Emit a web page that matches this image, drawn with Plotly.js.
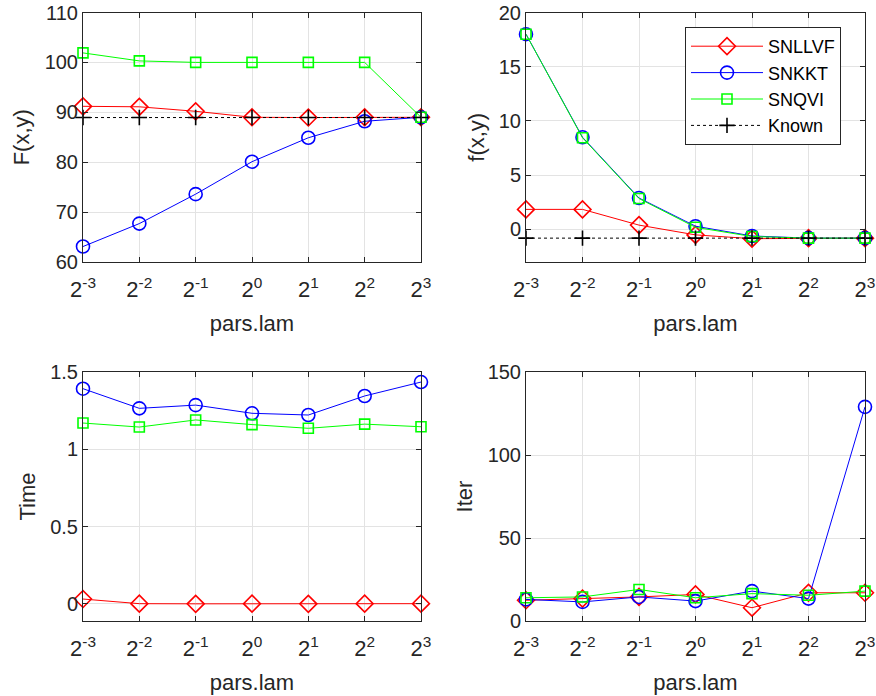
<!DOCTYPE html>
<html>
<head>
<meta charset="utf-8">
<script src="https://cdn.plot.ly/plotly-3.0.1.min.js"></script>
<style>html,body{margin:0;padding:0;background:#fff;}#chart{width:876px;height:696px;}</style>
</head>
<body>
<div id="chart"></div>
<script>
// x positions: exponents of pars.lam = 2^k
const lamExp = [-3, -2, -1, 0, 1, 2, 3];
const lamTickText = ['2<sup>-3</sup>', '2<sup>-2</sup>', '2<sup>-1</sup>', '2<sup>0</sup>', '2<sup>1</sup>', '2<sup>2</sup>', '2<sup>3</sup>'];
const seriesNames = ['SNLLVF', 'SNKKT', 'SNQVI', 'Known'];

// F(x,y)
const F_SNLLVF = [91.2, 91.1, 90.2, 89.0, 88.95, 89.0, 89.0];
const F_SNKKT  = [63.1, 67.7, 73.6, 80.1, 84.9, 88.2, 89.0];
const F_SNQVI  = [101.9, 100.3, 100.0, 100.0, 100.0, 100.0, 89.0];
const F_Known  = [88.95, 88.95, 88.95, 88.95, 88.95, 88.95, 88.95];

// f(x,y)
const f_SNLLVF = [1.85, 1.85, 0.4, -0.5, -0.85, -0.8, -0.8];
const f_SNKKT  = [18.0, 8.5, 2.9, 0.3, -0.6, -0.8, -0.8];
const f_SNQVI  = [18.0, 8.45, 2.85, 0.2, -0.65, -0.8, -0.8];
const f_Known  = [-0.8, -0.8, -0.8, -0.8, -0.8, -0.8, -0.8];

// Time
const T_SNLLVF = [0.032, 0.002, 0.001, 0.002, 0.001, 0.002, 0.002];
const T_SNKKT  = [1.392, 1.265, 1.286, 1.233, 1.222, 1.345, 1.435];
const T_SNQVI  = [1.170, 1.144, 1.190, 1.160, 1.136, 1.163, 1.146];

// Iter
const I_SNLLVF = [12.5, 13.5, 14.5, 16, 8, 17, 17];
const I_SNKKT  = [13, 11.5, 14.5, 12, 18, 13.5, 129];
const I_SNQVI  = [14, 14.5, 19, 14, 16.5, 15.5, 18];

const styles = {
  SNLLVF: {color: '#ff0000', symbol: 'diamond-open', size: 13, dash: 'solid'},
  SNKKT:  {color: '#0000ff', symbol: 'circle-open', size: 13, dash: 'solid'},
  SNQVI:  {color: '#00ff00', symbol: 'square-open', size: 10, dash: 'solid'},
  Known:  {color: '#000000', symbol: 'cross-thin-open', size: 11, dash: 'dot'}
};

function tr(name, y, xa, ya, showLegend) {
  const s = styles[name];
  return {
    type: 'scatter', mode: 'lines+markers', name: name,
    x: lamExp, y: y, xaxis: xa, yaxis: ya,
    showlegend: showLegend, cliponaxis: false,
    line: {color: s.color, width: 1, dash: s.dash},
    marker: {symbol: s.symbol, size: s.size, color: s.color, line: {color: s.color, width: 1.6}}
  };
}

const data = [
  tr('SNLLVF', F_SNLLVF, 'x', 'y', false),
  tr('SNKKT', F_SNKKT, 'x', 'y', false),
  tr('SNQVI', F_SNQVI, 'x', 'y', false),
  tr('Known', F_Known, 'x', 'y', false),
  tr('SNLLVF', f_SNLLVF, 'x2', 'y2', true),
  tr('SNKKT', f_SNKKT, 'x2', 'y2', true),
  tr('SNQVI', f_SNQVI, 'x2', 'y2', true),
  tr('Known', f_Known, 'x2', 'y2', true),
  tr('SNLLVF', T_SNLLVF, 'x3', 'y3', false),
  tr('SNKKT', T_SNKKT, 'x3', 'y3', false),
  tr('SNQVI', T_SNQVI, 'x3', 'y3', false),
  tr('SNLLVF', I_SNLLVF, 'x4', 'y4', false),
  tr('SNKKT', I_SNKKT, 'x4', 'y4', false),
  tr('SNQVI', I_SNQVI, 'x4', 'y4', false)
];

const FONT = 'Liberation Sans, Arial, sans-serif';
const AX = '#262626';
function xax(domain, anchor) {
  return {
    domain: domain, anchor: anchor, range: [-3, 3],
    tickmode: 'array', tickvals: lamExp, ticktext: lamTickText,
    showline: true, mirror: 'ticks', linecolor: AX, linewidth: 1,
    ticks: 'inside', ticklen: 5, tickcolor: AX,
    showgrid: true, gridcolor: '#e3e3e3', gridwidth: 1, zeroline: false,
    tickfont: {family: FONT, size: 22, color: AX},
    ticklabelstandoff: 8,
    title: {text: 'pars.lam', font: {family: FONT, size: 22, color: AX}, standoff: 14},
    automargin: false
  };
}
function yax(domain, anchor, range, tickvals, title) {
  return {
    domain: domain, anchor: anchor, range: range,
    tickmode: 'array', tickvals: tickvals,
    showline: true, mirror: 'ticks', linecolor: AX, linewidth: 1,
    ticks: 'inside', ticklen: 5, tickcolor: AX,
    showgrid: true, gridcolor: '#e3e3e3', gridwidth: 1, zeroline: false,
    tickfont: {family: FONT, size: 20, color: AX},
    title: {text: title, font: {family: FONT, size: 22, color: AX}, standoff: 8},
    automargin: false
  };
}

const xL = [83/876, 421/876], xR = [526/876, 865/876];
const yT = [1 - 262/696, 1 - 12.5/696], yB = [1 - 621/696, 1 - 372/696];

const layout = {
  width: 876, height: 696,
  margin: {l: 0, r: 0, t: 0, b: 0},
  paper_bgcolor: '#ffffff', plot_bgcolor: '#ffffff',
  font: {family: FONT, color: AX},
  xaxis: xax(xL, 'y'), yaxis: yax(yT, 'x', [60, 110], [60, 70, 80, 90, 100, 110], 'F(x,y)'),
  xaxis2: xax(xR, 'y2'), yaxis2: yax(yT, 'x2', [-3, 20], [0, 5, 10, 15, 20], 'f(x,y)'),
  xaxis3: xax(xL, 'y3'), yaxis3: yax(yB, 'x3', [-0.11, 1.5], [0, 0.5, 1, 1.5], 'Time'),
  xaxis4: xax(xR, 'y4'), yaxis4: yax(yB, 'x4', [0, 150], [0, 50, 100, 150], 'Iter'),
  legend: {
    x: 685/876, y: 1 - 27/696, xanchor: 'left', yanchor: 'top',
    bgcolor: '#ffffff', bordercolor: AX, borderwidth: 1,
    font: {family: FONT, size: 18, color: '#000000'},
    tracegroupgap: 0, itemwidth: 72
  },
  showlegend: true
};

Plotly.newPlot('chart', data, layout, {staticPlot: true, displayModeBar: false});
</script>
</body>
</html>
